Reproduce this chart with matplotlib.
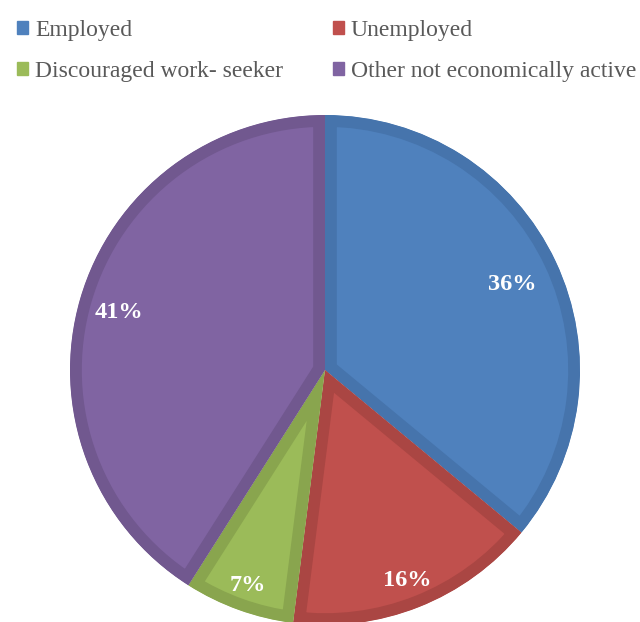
import matplotlib.pyplot as plt
from matplotlib.patches import Patch
import numpy as np

""" Data """
labels = ["Employed", "Unemployed", "Discouraged work- seeker", "Other not economically active"]
values = [36, 16, 7, 41]
colors = ["#4F81BD", "#C0504D", "#9BBB59", "#8064A2"]
edge_colors = ["#4674AC", "#AA4643", "#89A54E", "#71588F"]
label_dist = [0.81, 0.88, 0.89, 0.84]

cx, cy, r = 325, 252, 255

""" Figure """
fig = plt.figure(figsize=(6.4, 6.22), dpi=100)
ax = fig.add_axes([0, 0, 1, 1])

wedges, _, autotexts = ax.pie(values, colors=colors, startangle=90, counterclock=False,
                              center=(cx, cy), radius=r, autopct="%.0f%%",
                              pctdistance=0.85, frame=True,
                              textprops=dict(color="white", fontsize=17.5, fontweight="bold",
                                             family="Liberation Serif"))
ax.set_xlim(0, 640)
ax.set_ylim(0, 622)
ax.set_aspect("equal")
ax.axis("off")

# border drawn inside each slice only (pie turns clipping off, so switch it back on)
for w, ec in zip(wedges, edge_colors):
    w.set_edgecolor(ec)
    w.set_linewidth(17)
    w.set_joinstyle("miter")
    w.set_clip_on(True)
    w.set_clip_path(w.get_path(), w.get_transform())

for w, t, d in zip(wedges, autotexts, label_dist):
    ang = np.deg2rad((w.theta1 + w.theta2) / 2)
    t.set_position((cx + d * r * np.cos(ang), cy + d * r * np.sin(ang) - 2))

""" Legend """
order = [0, 2, 1, 3]
handles = [Patch(facecolor=colors[i], edgecolor=colors[i]) for i in order]
leg = ax.legend(handles, [labels[i] for i in order], ncol=2, loc="upper left",
                bbox_to_anchor=(17 / 640, 1 - 20 / 622), frameon=False,
                borderpad=0, borderaxespad=0,
                prop=dict(family="Liberation Serif", size=17),
                handlelength=0.47, handleheight=0.47, handletextpad=0.3,
                columnspacing=2.1, labelspacing=0.83, labelcolor="#595959")

fig.savefig("out.png", dpi=100)
